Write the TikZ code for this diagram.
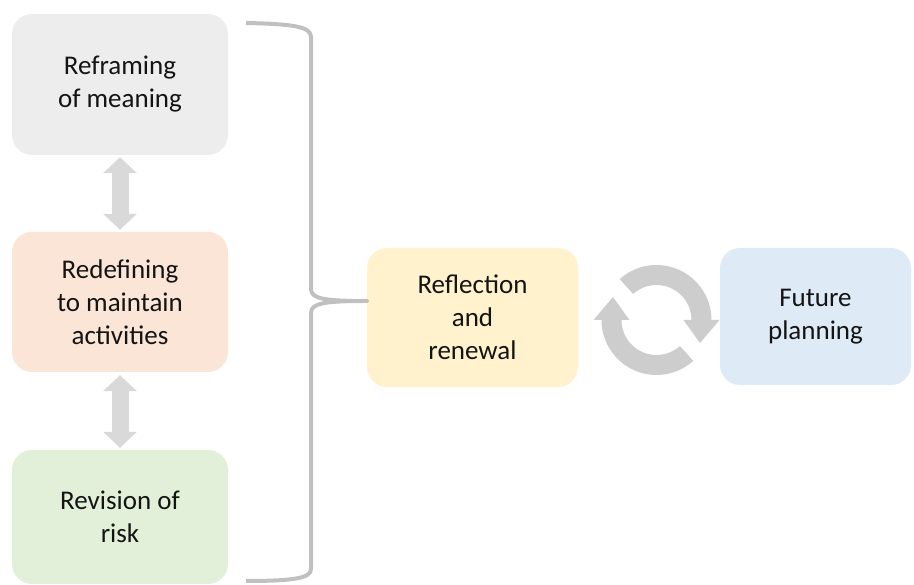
\documentclass[tikz,border=0pt]{standalone}
\usepackage{xcolor}
\usepackage{fontspec}
\setmainfont{Carlito}
\usepackage{tikz}
\usetikzlibrary{arrows.meta}

\definecolor{boxgrey}{HTML}{EDEDED}
\definecolor{boxorange}{HTML}{FBE5D6}
\definecolor{boxgreen}{HTML}{E2F0D9}
\definecolor{boxyellow}{HTML}{FFF2CC}
\definecolor{boxblue}{HTML}{DEEBF7}
\definecolor{arrowgrey}{HTML}{D9D9D9}
\definecolor{cyclegrey}{HTML}{CDCDCD}
\definecolor{bracegrey}{HTML}{C0C0C0}

\tikzset{
  stagebox/.style={rounded corners=20pt, inner sep=0pt, align=center, text=black!92,
    font=\fontsize{27}{33}\selectfont},
  updown/.style={draw=arrowgrey, line width=17pt,
    {Triangle[length=16pt,width=33pt]}-{Triangle[length=16pt,width=33pt]}},
  braceline/.style={draw=bracegrey, line width=4pt, line join=round},
  cyclearrow/.style={fill=cyclegrey}
}

\begin{document}
\begin{tikzpicture}[x=1pt, y=1pt]
 \useasboundingbox (0,0) rectangle (914,585);

 \node [stagebox, fill=boxgrey,   minimum width=216pt, minimum height=141pt] (meaning)  at (120,500.5) {Reframing\\of meaning};
 \node [stagebox, fill=boxorange, minimum width=216pt, minimum height=140pt] (activity) at (120,283)   {Redefining\\to maintain\\activities};
 \node [stagebox, fill=boxgreen,  minimum width=216pt, minimum height=134pt] (risk)     at (120,68)    {Revision of\\risk};

 \node [stagebox, fill=boxyellow, minimum width=211pt, minimum height=139pt] (renewal)  at (472.5,267.5) {Reflection\\and\\renewal};
 \node [stagebox, fill=boxblue,   minimum width=191pt, minimum height=137pt] (future)   at (815.5,268.5) {Future\\planning};

 \draw [updown] ([yshift=-2pt]meaning.south) -- ([yshift=2pt]activity.north);
 \draw [updown] ([yshift=-3pt]activity.south) -- ([yshift=2pt]risk.north);

 % brace
 \coordinate (tip) at (367,284);
 \draw [braceline] (246,562) .. controls (295,561) and (311,558) .. (311,548) -- (311,296)
   .. controls (311,286) and (325,284) .. (tip)
   .. controls (325,284) and (311,282) .. (311,272) -- (311,16)
   .. controls (311,7) and (295,4) .. (246,4);

 % cycle
 \begin{scope}[shift={(656.5,265)}]
  \fill [cyclearrow] (132:55) arc [start angle=132, end angle=0, radius=55] -- (63,0) -- (43.5,-23)
    -- (27,0) -- (35,0) arc [start angle=0, end angle=132, radius=35] -- cycle;
  \fill [cyclearrow] (-48:55) arc [start angle=-48, end angle=-180, radius=55] -- (-63,0) -- (-43.5,23)
    -- (-27,0) -- (-35,0) arc [start angle=180, end angle=312, radius=35] -- cycle;
 \end{scope}
\end{tikzpicture}
\end{document}
